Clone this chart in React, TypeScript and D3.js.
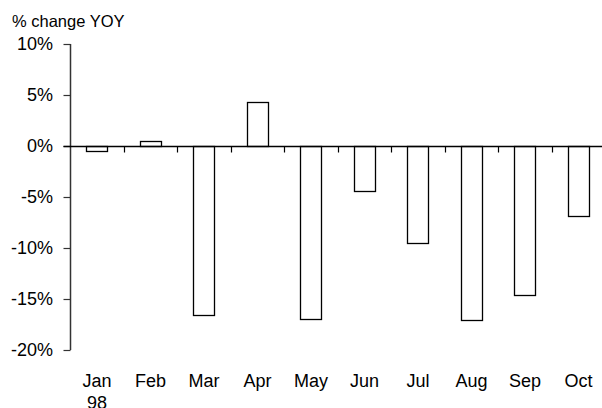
import React from "react";
import * as d3 from "d3";

const months = ["Jan", "Feb", "Mar", "Apr", "May", "Jun", "Jul", "Aug", "Sep", "Oct"];
const yoyChange = [-0.45, 0.5, -16.6, 4.3, -17.0, -4.4, -9.5, -17.1, -14.6, -6.9];
const yTicks = [10, 5, 0, -5, -10, -15, -20];
const yearLabel = "98";
const axisTitle = "% change YOY";

export default function App() {
  const W = 602;
  const H = 408;
  const x0 = 70.25;
  const x1 = 605.25;
  const x = d3.scaleBand<string>().domain(months).range([x0, x1]).paddingInner(0.6).paddingOuter(0.3);
  const y = d3.scaleLinear().domain([-20, 10]).range([350, 44]);
  const step = x.step();
  const font = "'Liberation Sans', Arial, sans-serif";
  const zeroY = Math.round(y(0)) + 0.5;
  return (
    <svg
      width={W}
      height={H}
      style={{ position: "fixed", left: 0, top: 0, background: "#fff" }}
      fontFamily={font}
    >
      <rect x={0} y={0} width={W} height={H} fill="#fff" />
      <text x={12} y={26.5} fontSize={16.5} fill="#000">{axisTitle}</text>
      {/* bars */}
      {months.map((m, i) => {
        const v = yoyChange[i];
        const top = y(Math.max(0, v));
        const bot = y(Math.min(0, v));
        return (
          <rect
            key={m}
            x={Math.round(x(m)!) + 0.5}
            y={Math.round(top) + 0.5}
            width={Math.round(x.bandwidth())}
            height={Math.max(1, Math.round(bot - top))}
            fill="#fff"
            stroke="#000"
            strokeWidth={1.3}
          />
        );
      })}
      {/* y axis */}
      <line x1={70.5} x2={70.5} y1={y(10)} y2={y(-20)} stroke="#333" strokeWidth={1.5} />
      {yTicks.map((t) => (
        <g key={t}>
          <line x1={63.5} x2={70.5} y1={Math.round(y(t)) + 0.5} y2={Math.round(y(t)) + 0.5} stroke="#333" strokeWidth={1.2} />
          <text x={53} y={y(t)} dy="0.36em" textAnchor="end" fontSize={18} fill="#000">
            {t}%
          </text>
        </g>
      ))}
      {/* x axis */}
      <line x1={63.5} x2={W} y1={zeroY} y2={zeroY} stroke="#000" strokeWidth={1.3} />
      {months.slice(1).map((m, i) => {
        const xx = Math.round(x0 + (i + 1) * step) + 0.5;
        return <line key={m} x1={xx} x2={xx} y1={zeroY} y2={zeroY + 6} stroke="#000" strokeWidth={1.2} />;
      })}
      {months.map((m) => (
        <text key={m} x={x(m)! + x.bandwidth() / 2} y={387} textAnchor="middle" fontSize={18} fill="#000">
          {m}
        </text>
      ))}
      <text x={x("Jan")! + x.bandwidth() / 2} y={409} textAnchor="middle" fontSize={18} fill="#000">
        {yearLabel}
      </text>
    </svg>
  );
}
